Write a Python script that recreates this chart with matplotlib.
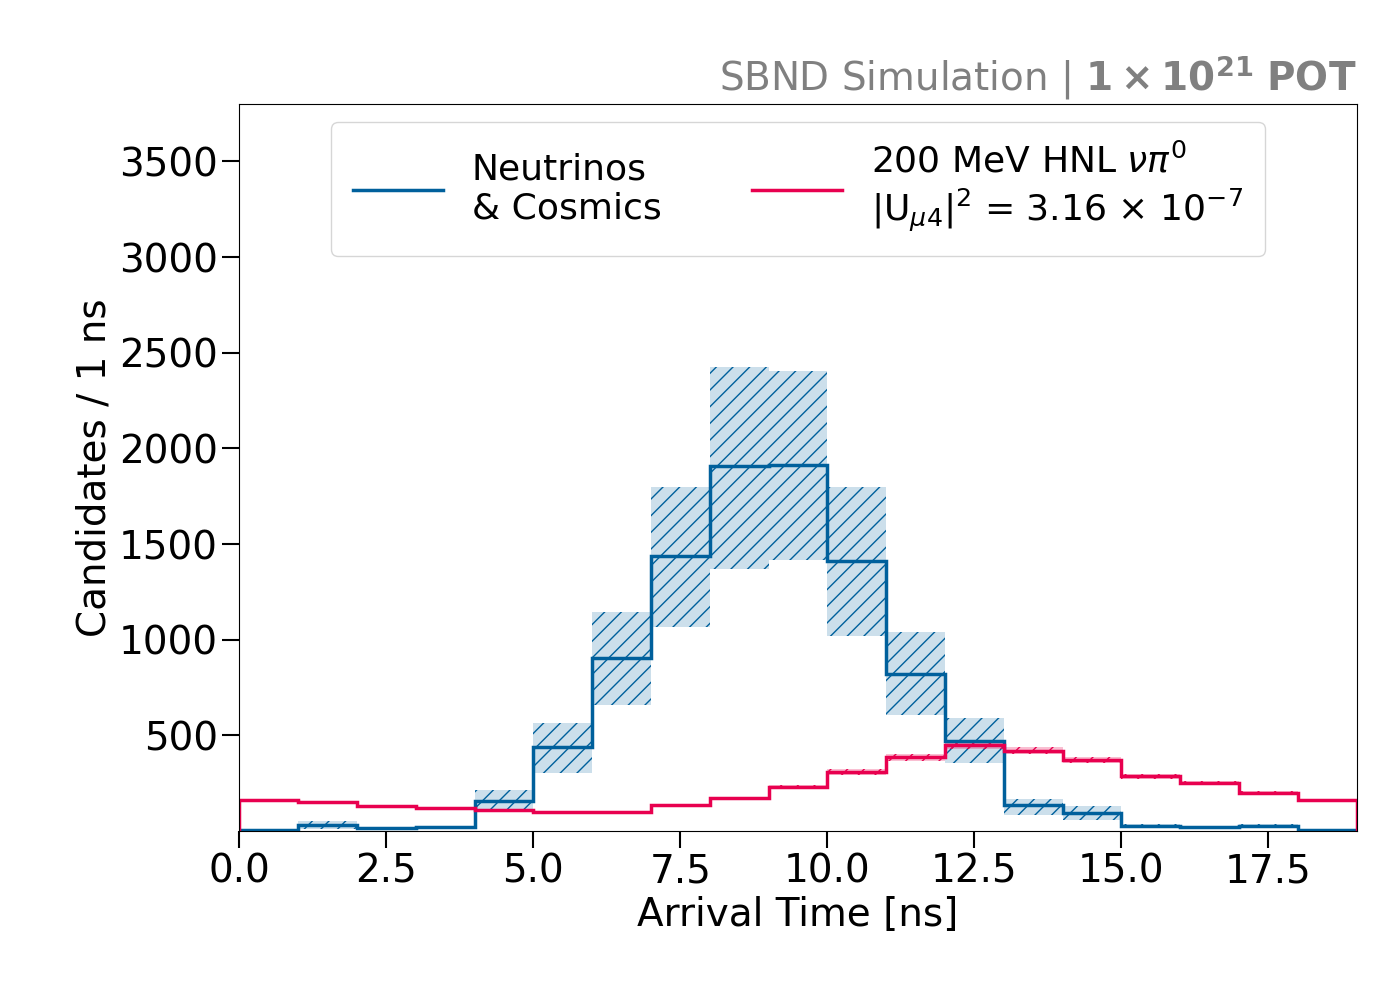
import numpy as np
import matplotlib.pyplot as plt

edges = np.arange(0, 20, 1)
bkg = np.array([5, 30, 15, 20, 155, 440, 905, 1435, 1910, 1915, 1410, 820, 470, 135, 95, 25, 20, 25, 5])
bkg_hi = np.array([5, 50, 20, 25, 215, 565, 1145, 1800, 2425, 2405, 1800, 1040, 590, 165, 130, 35, 25, 35, 8])
bkg_lo = np.array([0, 10, 10, 15, 110, 305, 660, 1065, 1370, 1415, 1020, 605, 355, 85, 60, 15, 15, 15, 2])
sig = np.array([160, 150, 130, 118, 108, 97, 97, 135, 170, 230, 310, 385, 450, 420, 370, 285, 250, 200, 160])
sig_err = np.array([8, 8, 7, 7, 6, 6, 6, 8, 10, 12, 15, 18, 20, 19, 17, 14, 12, 10, 8])

blue = '#00609c'
red = '#e8004f'

plt.rcParams['font.size'] = 28
plt.rcParams['hatch.color'] = blue
fig = plt.figure(figsize=(14, 10), dpi=100)
ax = fig.add_axes([0.171, 0.169, 0.798, 0.727])

ax.stairs(bkg_hi, edges, baseline=bkg_lo, fill=True, facecolor=blue, alpha=0.2, lw=0)
ax.stairs(bkg_hi, edges, baseline=bkg_lo, fill=True, facecolor='none', edgecolor=blue, hatch='//', lw=0)
ax.stairs(sig + sig_err, edges, baseline=sig - sig_err, fill=True, facecolor=red, alpha=0.25, lw=0)
ax.stairs(sig + sig_err, edges, baseline=sig - sig_err, fill=True, facecolor='none', edgecolor=red, hatch='//', lw=0)
ax.stairs(bkg, edges, color=blue, lw=2.5, label='Neutrinos\n& Cosmics')
ax.stairs(sig, edges, color=red, lw=2.5,
          label='200 MeV HNL $\\nu\\pi^0$\n$|\\mathrm{U}_{\\mu4}|^2$ = 3.16 $\\times$ 10$^{-7}$')

ax.set_xlim(0, 19)
ax.set_ylim(0, 3800)
ax.set_yticks([500, 1000, 1500, 2000, 2500, 3000, 3500])
ax.tick_params(length=12, width=1.5, labelsize=28)
ax.set_xlabel('Arrival Time [ns]', fontsize=28)
ax.set_ylabel('Candidates / 1 ns', fontsize=28)
ax.set_title('SBND Simulation | $\\mathbf{1 \\times 10^{21}}$ $\\bf{POT}$', loc='right',
             color='grey', fontsize=28, pad=10)
ax.legend(ncol=2, loc='upper center', fontsize=26, handlelength=2.5, columnspacing=2.5,
          borderpad=0.6)
fig.savefig('out.png')
